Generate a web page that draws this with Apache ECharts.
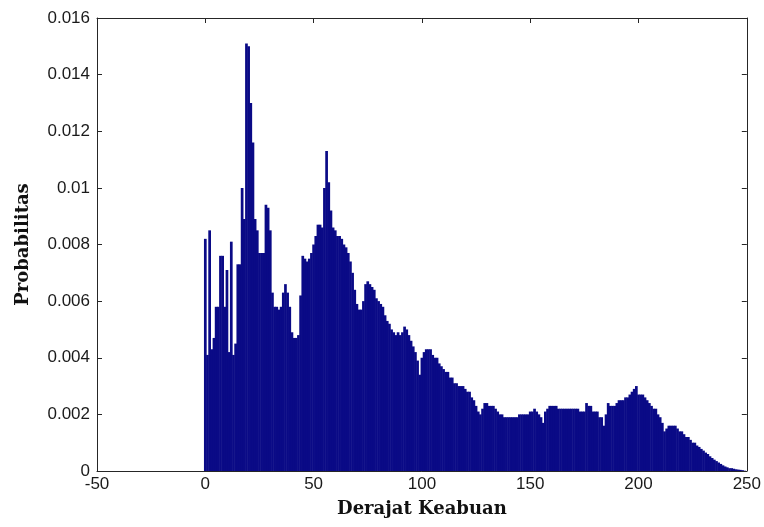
<!DOCTYPE html>
<html>
<head>
<meta charset="utf-8">
<script src="https://cdn.jsdelivr.net/npm/echarts@6/dist/echarts.min.js"></script>
<style>
  html, body { margin: 0; padding: 0; background: #fff; }
  #hist { width: 764px; height: 527px; }
</style>
</head>
<body>
<div id="hist"></div>
<script>
// probabilitas tiap derajat keabuan, indeks = derajat keabuan (0..250)
var probs = [
    0.0082, 0.0041, 0.0085, 0.0043, 0.0047, 0.0058, 0.0058, 0.0076, 0.0076, 0.0058,
    0.0071, 0.0042, 0.0081, 0.0041, 0.0045, 0.0073, 0.0073, 0.0100, 0.0089, 0.0151,
    0.0150, 0.0130, 0.0116, 0.0089, 0.0085, 0.0077, 0.0077, 0.0077, 0.0094, 0.0093,
    0.0085, 0.0063, 0.0058, 0.0058, 0.0057, 0.0058, 0.0063, 0.0066, 0.0063, 0.0058,
    0.0049, 0.0047, 0.0047, 0.0048, 0.0062, 0.0076, 0.0075, 0.0074, 0.0075, 0.0077,
    0.0080, 0.0083, 0.0087, 0.0087, 0.0086, 0.0100, 0.0113, 0.0102, 0.0092, 0.0086,
    0.0085, 0.0083, 0.0083, 0.0082, 0.0080, 0.0079, 0.0077, 0.0074, 0.0070, 0.0064,
    0.0059, 0.0057, 0.0057, 0.0060, 0.0066, 0.0067, 0.0066, 0.0065, 0.0064, 0.0061,
    0.0060, 0.0059, 0.0058, 0.0055, 0.0053, 0.0052, 0.0050, 0.0049, 0.0048, 0.0049,
    0.0048, 0.0049, 0.0051, 0.0050, 0.0048, 0.0046, 0.0044, 0.0042, 0.0039, 0.0034,
    0.0040, 0.0042, 0.0043, 0.0043, 0.0043, 0.0041, 0.0040, 0.0040, 0.0038, 0.0037,
    0.0036, 0.0035, 0.0035, 0.0033, 0.0033, 0.0031, 0.0031, 0.0030, 0.0030, 0.0030,
    0.0029, 0.0028, 0.0028, 0.0026, 0.0025, 0.0023, 0.0021, 0.0020, 0.0022, 0.0024,
    0.0024, 0.0023, 0.0023, 0.0023, 0.0022, 0.0021, 0.0020, 0.0020, 0.0019, 0.0019,
    0.0019, 0.0019, 0.0019, 0.0019, 0.0019, 0.0020, 0.0020, 0.0020, 0.0020, 0.0020,
    0.0021, 0.0021, 0.0022, 0.0021, 0.0020, 0.0019, 0.0017, 0.0021, 0.0022, 0.0023,
    0.0023, 0.0023, 0.0023, 0.0022, 0.0022, 0.0022, 0.0022, 0.0022, 0.0022, 0.0022,
    0.0022, 0.0022, 0.0022, 0.0021, 0.0021, 0.0021, 0.0024, 0.0023, 0.0023, 0.0021,
    0.0021, 0.0021, 0.0019, 0.0019, 0.0016, 0.0020, 0.0024, 0.0023, 0.0023, 0.0023,
    0.0024, 0.0025, 0.0025, 0.0025, 0.0026, 0.0026, 0.0027, 0.0028, 0.0029, 0.0030,
    0.0027, 0.0027, 0.0027, 0.0026, 0.0025, 0.0024, 0.0023, 0.0022, 0.0022, 0.0020,
    0.0019, 0.0017, 0.0014, 0.0015, 0.0016, 0.0016, 0.0016, 0.0016, 0.0015, 0.0014,
    0.0014, 0.0013, 0.0012, 0.0012, 0.0011, 0.0010, 0.0010, 0.0009, 0.00085, 0.00078,
    0.00072, 0.00065, 0.0006, 0.00052, 0.00046, 0.0004, 0.00035, 0.0003, 0.00025, 0.0002,
    0.00016, 0.00013, 0.0001, 0.0001, 0.00008, 0.00006, 0.00005, 0.00004, 0.00003, 0.00001,
    0
];
var xTicks = [-50, 0, 50, 100, 150, 200, 250];
var yTicks = [0, 0.002, 0.004, 0.006, 0.008, 0.01, 0.012, 0.014, 0.016];

function histogram() {
    var myChart = echarts.init(document.getElementById('hist'));

    var frameColor = '#262626';
    var labelFont = {
        color: '#1a1a1a',
        fontFamily: 'Liberation Sans',
        fontSize: 17
    };
    var nameFont = { fontFamily: 'DejaVu Serif', fontWeight: 'bold', fontSize: 18, color: '#111' };

    function xAxisCfg(pos, showLabel) {
        return {
            type: 'value',
            position: pos,
            min: xTicks[0],
            max: xTicks[xTicks.length - 1],
            interval: 50,
            axisLine: { show: true, onZero: false, lineStyle: { color: frameColor, width: 1 } },
            axisTick: { show: true, inside: true, length: 5, lineStyle: { color: frameColor } },
            axisLabel: Object.assign({ show: showLabel, margin: 5 }, labelFont),
            splitLine: { show: false }
        };
    }

    function yAxisCfg(pos, showLabel) {
        return {
            type: 'value',
            position: pos,
            min: yTicks[0],
            max: yTicks[yTicks.length - 1],
            interval: 0.002,
            axisLine: { show: true, onZero: false, lineStyle: { color: frameColor, width: 1 } },
            axisTick: { show: true, inside: true, length: 5, lineStyle: { color: frameColor } },
            axisLabel: Object.assign({
                show: showLabel,
                margin: 7,
                formatter: function (v) { return String(+v.toFixed(3)); }
            }, labelFont),
            splitLine: { show: false }
        };
    }

    var xBottom = xAxisCfg('bottom', true);
    xBottom.name = 'Derajat Keabuan';
    xBottom.nameLocation = 'middle';
    xBottom.nameGap = 29;
    xBottom.nameTextStyle = nameFont;

    var yLeft = yAxisCfg('left', true);
    yLeft.name = 'Probabilitas';
    yLeft.nameLocation = 'middle';
    yLeft.nameGap = 65;
    yLeft.nameTextStyle = nameFont;

    var option = {
        backgroundColor: '#ffffff',
        animation: false,
        grid: { left: 97, right: 17, top: 18, bottom: 56 },
        xAxis: [xBottom, xAxisCfg('top', false)],
        yAxis: [yLeft, yAxisCfg('right', false)],
        series: [{
            name: 'Probabilitas',
            type: 'bar',
            xAxisIndex: 0,
            yAxisIndex: 0,
            barWidth: 2.7,
            itemStyle: { color: '#0a0a86' },
            data: probs.map(function (p, i) { return [i, p]; })
        }]
    };

    myChart.setOption(option);
    window.addEventListener('resize', function () {
        myChart.resize();
    });
}

histogram();
</script>
</body>
</html>
